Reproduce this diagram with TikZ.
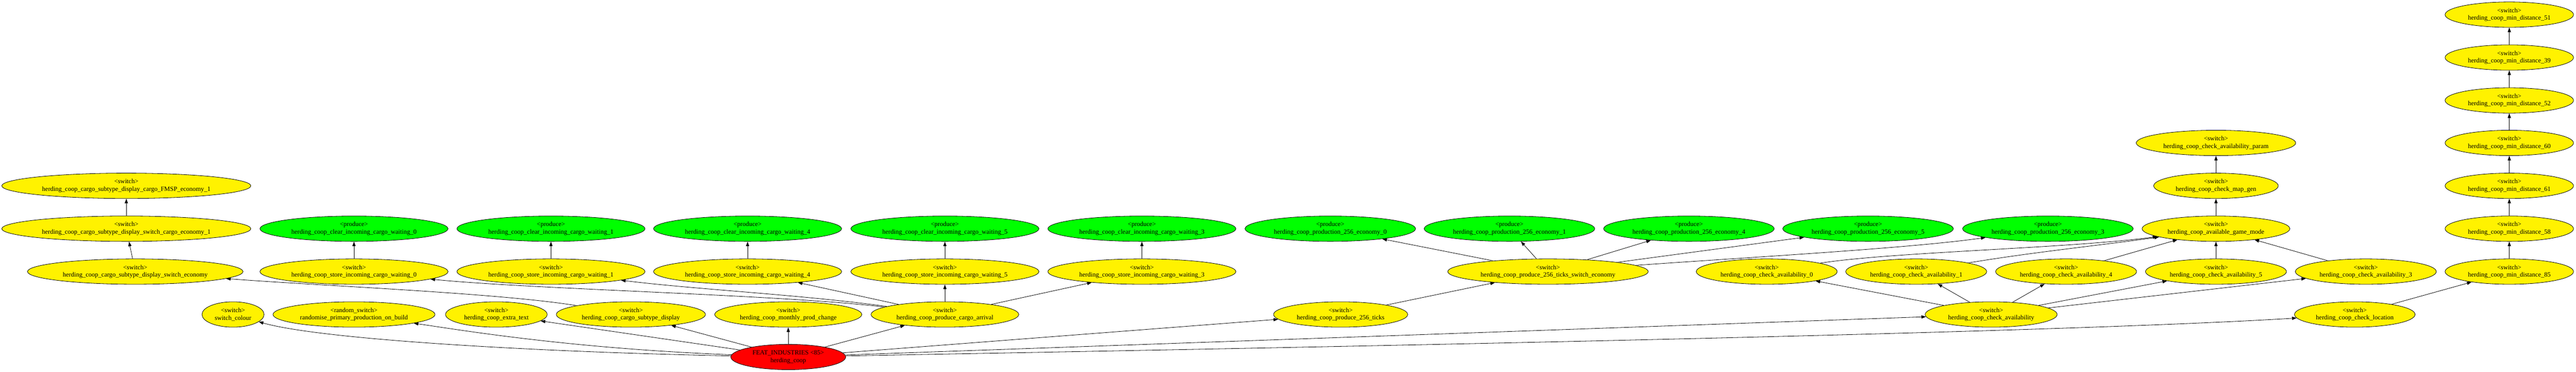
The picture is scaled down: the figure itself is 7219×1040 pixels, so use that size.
\documentclass[tikz,border=0pt]{standalone}
\usepackage{fontspec}
\setmainfont{Liberation Serif}
\usetikzlibrary{arrows.meta,shapes.geometric,backgrounds}
\begin{document}
\begin{tikzpicture}[x=0.775pt,y=-0.775pt,
  nd/.style={ellipse,draw=black,line width=0.9pt,inner sep=0pt,minimum height=71*0.775pt,align=center,font=\fontsize{14}{16.5}\selectfont},
  sw/.style={nd,fill=yellow},
  pr/.style={nd,fill=green},
  ew/.style={minimum width=#1*0.775pt},
  edge/.style={-{Triangle[length=10pt,width=7pt]},line width=0.9pt}]
\useasboundingbox (0,0) rectangle (7219,1040);
% left column
\node[sw,ew=698] (fmsp) at (354,520) {<switch>\\herding\_coop\_cargo\_subtype\_display\_cargo\_FMSP\_economy\_1};
\node[sw,ew=698] (sce1) at (354,640) {<switch>\\herding\_coop\_cargo\_subtype\_display\_switch\_cargo\_economy\_1};
\node[sw,ew=604] (se) at (379,760) {<switch>\\herding\_coop\_cargo\_subtype\_display\_switch\_economy};
% bottom switch row
\node[sw,ew=174] (colour) at (653,880) {<switch>\\switch\_colour};
\node[sw,ew=454] (rand) at (992,880) {<random\_switch>\\randomise\_primary\_production\_on\_build};
\node[sw,ew=285] (extra) at (1391,880) {<switch>\\herding\_coop\_extra\_text};
\node[sw,ew=418] (csd) at (1768,880) {<switch>\\herding\_coop\_cargo\_subtype\_display};
\node[sw,ew=412] (mpc) at (2209,880) {<switch>\\herding\_coop\_monthly\_prod\_change};
\node[sw,ew=414] (pca) at (2648,880) {<switch>\\herding\_coop\_produce\_cargo\_arrival};
\node[sw,ew=376] (p256) at (3757,880) {<switch>\\herding\_coop\_produce\_256\_ticks};
\node[sw,ew=370] (ca) at (5580,880) {<switch>\\herding\_coop\_check\_availability};
\node[sw,ew=338] (cl) at (6599,880) {<switch>\\herding\_coop\_check\_location};
% root
\node[nd,fill=red,ew=322] (root) at (2209,999) {FEAT\_INDUSTRIES <85>\\herding\_coop};
% store / clear
\foreach \i/\x in {0/992,1/1544,4/2095,5/2648,3/3200}{
  \node[sw,ew=527] (store\i) at (\x,760) {<switch>\\herding\_coop\_store\_incoming\_cargo\_waiting\_\i};
  \node[pr,ew=527] (clear\i) at (\x,640) {<produce>\\herding\_coop\_clear\_incoming\_cargo\_waiting\_\i};
}
% production economy
\foreach \i/\x in {0/3728,1/4230,4/4733,5/5235,3/5739}{
  \node[pr,ew=478] (eco\i) at (\x,640) {<produce>\\herding\_coop\_production\_256\_economy\_\i};
}
\node[sw,ew=562] (pse) at (4338,760) {<switch>\\herding\_coop\_produce\_256\_ticks\_switch\_economy};
% check availability
\foreach \i/\x in {0/4951,1/5370,4/5790,5/6210,3/6630}{
  \node[sw,ew=395] (ca\i) at (\x,760) {<switch>\\herding\_coop\_check\_availability\_\i};
}
\node[sw,ew=414] (agm) at (6210,640) {<switch>\\herding\_coop\_available\_game\_mode};
\node[sw,ew=349] (cmg) at (6210,520) {<switch>\\herding\_coop\_check\_map\_gen};
\node[sw,ew=447] (cap) at (6210,400) {<switch>\\herding\_coop\_check\_availability\_param};
% min distance chain
\foreach \n/\y in {85/760,58/640,61/520,60/400,52/281,39/161,51/41}{
  \node[sw,ew=360] (md\n) at (7032,\y) {<switch>\\herding\_coop\_min\_distance\_\n};
}
\begin{scope}[on background layer]
\draw[edge] (root) .. controls (1500,985) and (900,950) .. (colour);
\draw[edge] (root) .. controls (1600,975) and (1300,925) .. (rand);
\draw[edge] (root) -- (extra);
\draw[edge] (root) -- (csd);
\draw[edge] (root) -- (mpc);
\draw[edge] (root) -- (pca);
\draw[edge] (root) -- (p256);
\draw[edge] (root) -- (ca);
\draw[edge] (root) .. controls (3500,975) and (5700,935) .. (cl);
\draw[edge] (csd) .. controls (1400,820) and (900,800) .. (se);
\draw[edge] (se) -- (sce1);
\draw[edge] (sce1) -- (fmsp);
\draw[edge] (pca) .. controls (2200,825) and (1500,810) .. (store0);
\draw[edge] (pca) .. controls (2250,825) and (1950,810) .. (store1);
\draw[edge] (pca) -- (store4);
\draw[edge] (pca) -- (store5);
\draw[edge] (pca) -- (store3);
\foreach \i in {0,1,4,5,3}{\draw[edge] (store\i) -- (clear\i);}
\draw[edge] (p256) -- (pse);
\draw[edge] (pse) -- (eco0);
\draw[edge] (pse) -- (eco1);
\draw[edge] (pse) -- (eco4);
\draw[edge] (pse) -- (eco5);
\draw[edge] (pse) .. controls (4900,720) and (5350,695) .. (eco3);
\foreach \i in {0,1,4,5,3}{\draw[edge] (ca) -- (ca\i);}
\draw[edge] (ca0) .. controls (5300,705) and (5800,695) .. (agm);
\draw[edge] (ca1) .. controls (5700,705) and (5900,685) .. (agm);
\draw[edge] (ca4) -- (agm);
\draw[edge] (ca5) -- (agm);
\draw[edge] (ca3) -- (agm);
\draw[edge] (agm) -- (cmg);
\draw[edge] (cmg) -- (cap);
\draw[edge] (cl) -- (md85);
\draw[edge] (md85) -- (md58);
\draw[edge] (md58) -- (md61);
\draw[edge] (md61) -- (md60);
\draw[edge] (md60) -- (md52);
\draw[edge] (md52) -- (md39);
\draw[edge] (md39) -- (md51);
\end{scope}
\end{tikzpicture}
\end{document}
